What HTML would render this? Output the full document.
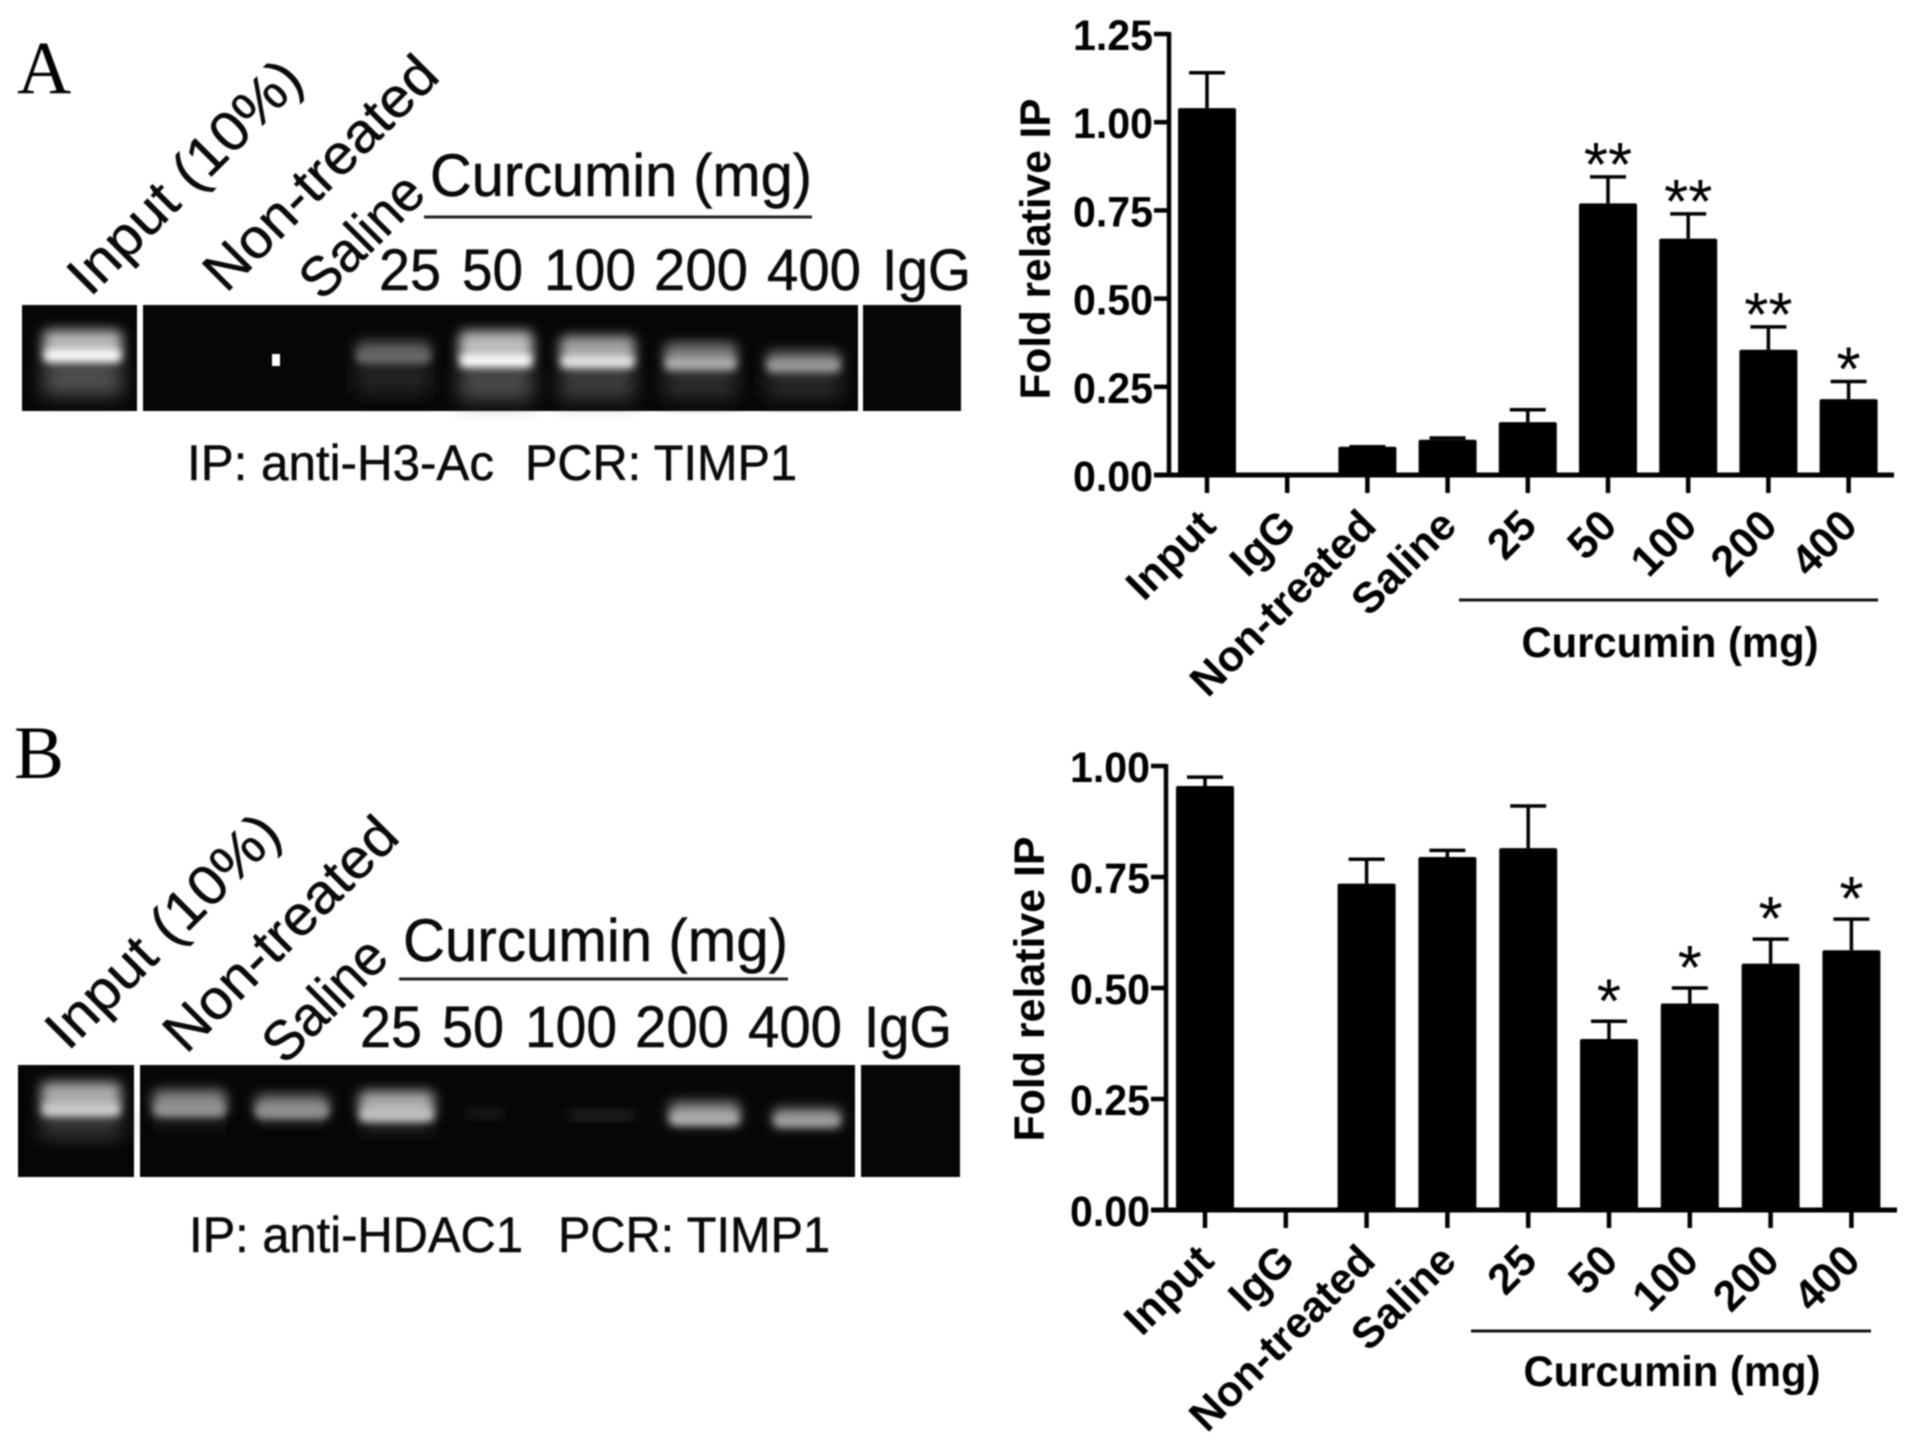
<!DOCTYPE html>
<html lang="en">
<head>
<meta charset="utf-8">
<title>Fold relative IP at the TIMP1 promoter</title>
<style>
html,body{margin:0;padding:0;background:#fff;width:1913px;height:1448px;overflow:hidden}
svg{display:block;filter:blur(0.8px)}
text{font-family:"Liberation Sans",Arial,sans-serif;fill:#000}
.serif{font-family:"Liberation Serif","Times New Roman",serif}
.gel-label{font-size:56px;fill:#0a0a0a;stroke:#0a0a0a;stroke-width:0.5px}
.num-label{font-size:58px}
.caption{font-size:50px}
.big{font-size:60px}
.chart-label{font-weight:bold;font-size:43px;fill:#000}
</style>
</head>
<body>
<svg id="figure" xmlns="http://www.w3.org/2000/svg" width="1913" height="1448" viewBox="0 0 1913 1448">
<defs>
<filter id="b6" x="-30%" y="-60%" width="160%" height="220%"><feGaussianBlur stdDeviation="6"/></filter>
<filter id="b3" x="-30%" y="-60%" width="160%" height="220%"><feGaussianBlur stdDeviation="4"/></filter>
<filter id="b9" x="-30%" y="-60%" width="160%" height="220%"><feGaussianBlur stdDeviation="9"/></filter>
</defs>
<rect width="1913" height="1448" fill="#fff"/>

<text class="serif" x="17" y="93" font-size="75">A</text>
<text class="serif" x="14" y="778" font-size="75">B</text>

<g id="gel-a"></g>
<g id="gel-b"></g>

<g>
<text class="gel-label" transform="translate(90,298) rotate(-45)" textLength="305" lengthAdjust="spacingAndGlyphs">Input (10%)</text>
<text class="gel-label" transform="translate(226,294) rotate(-45)" textLength="305" lengthAdjust="spacingAndGlyphs">Non-treated</text>
<text class="gel-label" transform="translate(322,302) rotate(-45)" textLength="150" lengthAdjust="spacingAndGlyphs">Saline</text>
<text class="gel-label big" x="430" y="196" textLength="382" lengthAdjust="spacingAndGlyphs">Curcumin (mg)</text>
<line x1="424" x2="812" y1="217" y2="217" stroke="#222" stroke-width="3"/>
<text class="gel-label num-label" x="379" y="290" textLength="62" lengthAdjust="spacingAndGlyphs">25</text>
<text class="gel-label num-label" x="462" y="290" textLength="61" lengthAdjust="spacingAndGlyphs">50</text>
<text class="gel-label num-label" x="544" y="290" textLength="92" lengthAdjust="spacingAndGlyphs">100</text>
<text class="gel-label num-label" x="654" y="290" textLength="94" lengthAdjust="spacingAndGlyphs">200</text>
<text class="gel-label num-label" x="767" y="290" textLength="94" lengthAdjust="spacingAndGlyphs">400</text>
<text class="gel-label num-label" x="882" y="290" textLength="89" lengthAdjust="spacingAndGlyphs">IgG</text>
<text class="gel-label caption" x="187" y="480" textLength="307" lengthAdjust="spacingAndGlyphs">IP: anti-H3-Ac</text>
<text class="gel-label caption" x="525" y="480" textLength="272" lengthAdjust="spacingAndGlyphs">PCR: TIMP1</text>
</g>

<g>
<text class="gel-label" transform="translate(68,1052) rotate(-45)" textLength="305" lengthAdjust="spacingAndGlyphs">Input (10%)</text>
<text class="gel-label" transform="translate(186,1055) rotate(-45)" textLength="305" lengthAdjust="spacingAndGlyphs">Non-treated</text>
<text class="gel-label" transform="translate(285,1066) rotate(-45)" textLength="150" lengthAdjust="spacingAndGlyphs">Saline</text>
<text class="gel-label big" x="403" y="961" textLength="385" lengthAdjust="spacingAndGlyphs">Curcumin (mg)</text>
<line x1="399" x2="788" y1="979" y2="979" stroke="#222" stroke-width="3"/>
<text class="gel-label num-label" x="360" y="1047" textLength="62" lengthAdjust="spacingAndGlyphs">25</text>
<text class="gel-label num-label" x="442" y="1047" textLength="62" lengthAdjust="spacingAndGlyphs">50</text>
<text class="gel-label num-label" x="525" y="1047" textLength="92" lengthAdjust="spacingAndGlyphs">100</text>
<text class="gel-label num-label" x="635" y="1047" textLength="94" lengthAdjust="spacingAndGlyphs">200</text>
<text class="gel-label num-label" x="748" y="1047" textLength="94" lengthAdjust="spacingAndGlyphs">400</text>
<text class="gel-label num-label" x="864" y="1047" textLength="88" lengthAdjust="spacingAndGlyphs">IgG</text>
<text class="gel-label caption" x="189" y="1252" textLength="334" lengthAdjust="spacingAndGlyphs">IP: anti-HDAC1</text>
<text class="gel-label caption" x="558" y="1252" textLength="272" lengthAdjust="spacingAndGlyphs">PCR: TIMP1</text>
</g>

<g id="chart-a"></g>
<g id="chart-b"></g>
</svg>

<script>
const categories = ['Input', 'IgG', 'Non-treated', 'Saline', '25', '50', '100', '200', '400'];
const tickLabelsA = ['0.00', '0.25', '0.50', '0.75', '1.00', '1.25'];
const tickValuesA = [0, 0.25, 0.5, 0.75, 1, 1.25];
const valuesA = [1.04, 0, 0.08, 0.1, 0.15, 0.77, 0.67, 0.355, 0.215];
const errorTopsA = [1.14, null, 0.08, 0.105, 0.185, 0.845, 0.74, 0.42, 0.265];
const significanceA = ['', '', '', '', '', '**', '**', '**', '*'];
const tickLabelsB = ['0.00', '0.25', '0.50', '0.75', '1.00'];
const tickValuesB = [0, 0.25, 0.5, 0.75, 1];
const valuesB = [0.955, 0, 0.735, 0.795, 0.815, 0.385, 0.465, 0.555, 0.585];
const errorTopsB = [0.975, null, 0.79, 0.81, 0.91, 0.425, 0.5, 0.61, 0.655];
const significanceB = ['', '', '', '', '', '*', '*', '*', '*'];
const SVGNS = 'http://www.w3.org/2000/svg';

function make(parent, tag, attrs, text) {
  const el = document.createElementNS(SVGNS, tag);
  for (const k in attrs) el.setAttribute(k, attrs[k]);
  if (text !== undefined) el.textContent = text;
  parent.appendChild(el);
  return el;
}

function drawChart(id, geo, values, errorTops, significance, tickValues, tickLabels) {
  const g = document.getElementById(id);
  const xScale = i => geo.x0 + geo.step * i;
  const yScale = v => geo.y0 - (v / geo.yMax) * (geo.y0 - geo.yTop);

  values.forEach((v, i) => {
    if (v <= 0) return;
    const bar = make(g, 'rect', {x: xScale(i) - geo.barW / 2, y: yScale(v), width: geo.barW, height: geo.y0 - yScale(v), fill: '#000', rx: 2});
    
    
    const top = errorTops[i];
    if (top !== null) {
      const stem = make(g, 'line', {x1: xScale(i), x2: xScale(i), y1: yScale(v), y2: yScale(top), stroke: '#000', 'stroke-width': 3.5});
      
      
      const cap = make(g, 'line', {x1: xScale(i) - 18, x2: xScale(i) + 18, y1: yScale(top), y2: yScale(top), stroke: '#000', 'stroke-width': 3.5});
      
      
    }
    if (significance[i]) {
      const star = make(g, 'text', {x: xScale(i), y: yScale(top) + geo.starDy, 'text-anchor': 'middle', 'font-size': 62, fill: '#000'}, significance[i]);
      
      
    }
  });

  const yAxis = make(g, 'line', {x1: geo.axisX, x2: geo.axisX, y1: geo.yTop - 2, y2: geo.y0 + 2, stroke: '#000', 'stroke-width': 4.5});
  
  
  const xAxis = make(g, 'line', {x1: geo.axisLeft, x2: geo.axisRight, y1: geo.y0, y2: geo.y0, stroke: '#000', 'stroke-width': 5});
  
  

  tickValues.forEach((v, i) => {
    const tick = make(g, 'line', {x1: geo.axisLeft, x2: geo.axisX, y1: yScale(v), y2: yScale(v), stroke: '#000', 'stroke-width': 4.5});
    
    
    const label = make(g, 'text', {x: geo.axisLeft - 1, y: yScale(v) + 16, 'text-anchor': 'end', 'class': 'chart-label', textLength: 80, lengthAdjust: 'spacingAndGlyphs'}, tickLabels[i]);
    
    
  });

  categories.forEach((c, i) => {
    const tick = make(g, 'line', {x1: xScale(i), x2: xScale(i), y1: geo.y0, y2: geo.y0 + 18, stroke: '#000', 'stroke-width': 4.5});
    
    
    const ex = xScale(i) + 11, ey = geo.y0 + 53;
    const label = make(g, 'text', {transform: 'translate(' + ex + ',' + ey + ') rotate(-45)', 'text-anchor': 'end', 'class': 'chart-label'}, c);
    
    
  });

  const title = make(g, 'text', {transform: 'translate(' + geo.titleX + ',' + geo.titleY + ') rotate(-90)', 'text-anchor': 'middle', 'class': 'chart-label', textLength: geo.titleLen, lengthAdjust: 'spacingAndGlyphs'}, 'Fold relative IP');
  
  

  const bracket = make(g, 'line', {x1: geo.lineL, x2: geo.lineR, y1: geo.lineY, y2: geo.lineY, stroke: '#111', 'stroke-width': 3});
  
  
  const cur = make(g, 'text', {x: geo.curX, y: geo.curY, 'text-anchor': 'middle', 'class': 'chart-label', textLength: 297, lengthAdjust: 'spacingAndGlyphs'}, 'Curcumin (mg)');
  
  
}

drawChart('chart-a',
  {x0: 1207, step: 80.2, barW: 58, y0: 475, yTop: 34, yMax: 1.25, axisX: 1169, axisLeft: 1154, axisRight: 1894, starDy: 9,
   titleX: 1050, titleY: 249, titleLen: 301, lineL: 1459, lineR: 1878, lineY: 600, curX: 1670, curY: 657},
  valuesA, errorTopsA, significanceA, tickValuesA, tickLabelsA);
drawChart('chart-b',
  {x0: 1205, step: 80.8, barW: 58, y0: 1210, yTop: 766, yMax: 1, axisX: 1166, axisLeft: 1151, axisRight: 1897, starDy: 1,
   titleX: 1044, titleY: 989, titleLen: 305, lineL: 1471, lineR: 1871, lineY: 1331, curX: 1672, curY: 1386},
  valuesB, errorTopsB, significanceB, tickValuesB, tickLabelsB);

function drawGel(id, panels, y, h, bands) {
  const g = document.getElementById(id);
  panels.forEach(p => {
    const r = make(g, 'rect', {x: p[0], y: y, width: p[1] - p[0], height: h, fill: '#060606'});
    
    
  });
  bands.forEach(b => {
    const band = make(g, 'g', {});
    
    
    const w = b[1] - b[0];
    if (b[6]) make(band, 'rect', {x: b[0], y: b[3], width: w, height: b[6], fill: '#' + b[7], filter: 'url(#b9)'});
    make(band, 'rect', {x: b[0], y: b[2], width: w, height: b[3] - b[2], fill: '#' + b[4], rx: 6, filter: 'url(#b6)'});
    if (b[5]) make(band, 'rect', {x: b[0] + 2, y: b[3] - 12, width: w - 4, height: 11, fill: '#' + b[5], filter: 'url(#b3)'});
  });
}

drawGel('gel-a', [[22,137],[143,858],[863,961]], 305, 106, [
  [43,122,330,362,'b8b8b8','ffffff',34,'505050'],
  [356,431,341,363,'5a5a5a','6a6a6a',32,'242424'],
  [459,533,331,367,'bcbcbc','ffffff',34,'4a4a4a'],
  [560,635,336,368,'a4a4a4','e8e8e8',32,'3c3c3c'],
  [664,737,343,370,'7c7c7c','b0b0b0',28,'2e2e2e'],
  [766,841,351,372,'707070','9c9c9c',26,'2a2a2a']
]);
const dot = make(document.getElementById('gel-a'), 'rect', {x: 272, y: 354, width: 8, height: 12, fill: '#fff'});



drawGel('gel-b', [[18,134],[140,855],[861,960]], 1065, 112, [
  [41,121,1082,1116,'aaaaaa','cfcfcf',22,'383838'],
  [153,226,1090,1116,'868686','959595',12,'1e1e1e'],
  [255,329,1095,1118,'808080','949494',8,'161616'],
  [359,434,1091,1121,'acacac','c4c4c4',12,'222222'],
  [466,504,1110,1117,'282828','',0,''],
  [568,635,1112,1119,'303030','',0,''],
  [669,740,1102,1125,'8e8e8e','b0b0b0',0,''],
  [773,841,1108,1127,'808080','a0a0a0',0,'']
]);
</script>
</body>
</html>
